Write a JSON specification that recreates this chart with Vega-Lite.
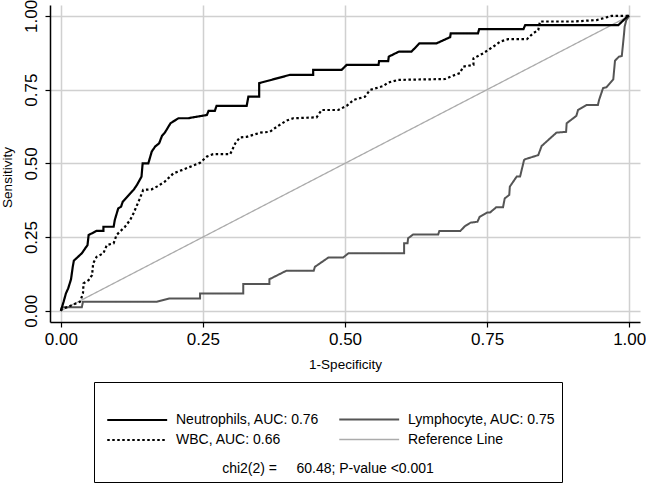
{
  "$schema": "https://vega.github.io/schema/vega-lite/v6.json",
  "autosize": "none",
  "width": 590,
  "height": 317,
  "padding": {"left": 50, "top": 5, "right": 6, "bottom": 162},
  "background": "white",
  "config": {
    "view": {"stroke": null},
    "font": "Liberation Sans",
    "axis": {
      "domainColor": "black",
      "domainWidth": 1.5,
      "tickColor": "black",
      "tickWidth": 1.2,
      "tickSize": 5,
      "gridColor": "#d0d0d0",
      "gridWidth": 1.5,
      "labelFont": "Liberation Sans",
      "labelFontSize": 17,
      "labelColor": "black",
      "titleFont": "Liberation Sans",
      "titleFontSize": 13.5,
      "titleFontWeight": "normal",
      "titleColor": "black"
    },
    "legend": {
      "orient": "none",
      "legendX": 44,
      "legendY": 377,
      "columns": 2,
      "direction": "horizontal",
      "strokeColor": "black",
      "padding": 6,
      "columnPadding": 12,
      "rowPadding": 0,
      "symbolType": "M-0.5,0H4.71",
      "symbolSize": 529,
      "symbolStrokeWidth": 1.5,
      "labelFont": "Liberation Sans",
      "labelFontSize": 14,
      "labelColor": "black",
      "labelOffset": 50,
      "labelLimit": 300,
      "titleOrient": "bottom",
      "titleAnchor": "middle",
      "titleFont": "Liberation Sans",
      "titleFontSize": 14,
      "titleFontWeight": "normal",
      "titleColor": "black",
      "titlePadding": 15,
      "titleLimit": 500
    }
  },
  "data": {
    "values": [
      {"s": "Reference Line", "x": 0, "y": 0},
      {"s": "Reference Line", "x": 1, "y": 1},
      {"s": "Lymphocyte, AUC: 0.75", "x": 0, "y": 0},
      {"s": "Lymphocyte, AUC: 0.75", "x": 0.002, "y": 0.012},
      {"s": "Lymphocyte, AUC: 0.75", "x": 0.037, "y": 0.012},
      {"s": "Lymphocyte, AUC: 0.75", "x": 0.039, "y": 0.031},
      {"s": "Lymphocyte, AUC: 0.75", "x": 0.078, "y": 0.031},
      {"s": "Lymphocyte, AUC: 0.75", "x": 0.169, "y": 0.031},
      {"s": "Lymphocyte, AUC: 0.75", "x": 0.192, "y": 0.042},
      {"s": "Lymphocyte, AUC: 0.75", "x": 0.245, "y": 0.042},
      {"s": "Lymphocyte, AUC: 0.75", "x": 0.245, "y": 0.059},
      {"s": "Lymphocyte, AUC: 0.75", "x": 0.321, "y": 0.059},
      {"s": "Lymphocyte, AUC: 0.75", "x": 0.321, "y": 0.091},
      {"s": "Lymphocyte, AUC: 0.75", "x": 0.367, "y": 0.091},
      {"s": "Lymphocyte, AUC: 0.75", "x": 0.367, "y": 0.107},
      {"s": "Lymphocyte, AUC: 0.75", "x": 0.397, "y": 0.136},
      {"s": "Lymphocyte, AUC: 0.75", "x": 0.445, "y": 0.136},
      {"s": "Lymphocyte, AUC: 0.75", "x": 0.447, "y": 0.149},
      {"s": "Lymphocyte, AUC: 0.75", "x": 0.471, "y": 0.181},
      {"s": "Lymphocyte, AUC: 0.75", "x": 0.497, "y": 0.181},
      {"s": "Lymphocyte, AUC: 0.75", "x": 0.506, "y": 0.195},
      {"s": "Lymphocyte, AUC: 0.75", "x": 0.604, "y": 0.195},
      {"s": "Lymphocyte, AUC: 0.75", "x": 0.604, "y": 0.229},
      {"s": "Lymphocyte, AUC: 0.75", "x": 0.61, "y": 0.229},
      {"s": "Lymphocyte, AUC: 0.75", "x": 0.611, "y": 0.246},
      {"s": "Lymphocyte, AUC: 0.75", "x": 0.62, "y": 0.259},
      {"s": "Lymphocyte, AUC: 0.75", "x": 0.664, "y": 0.259},
      {"s": "Lymphocyte, AUC: 0.75", "x": 0.666, "y": 0.271},
      {"s": "Lymphocyte, AUC: 0.75", "x": 0.703, "y": 0.271},
      {"s": "Lymphocyte, AUC: 0.75", "x": 0.711, "y": 0.287},
      {"s": "Lymphocyte, AUC: 0.75", "x": 0.721, "y": 0.299},
      {"s": "Lymphocyte, AUC: 0.75", "x": 0.733, "y": 0.302},
      {"s": "Lymphocyte, AUC: 0.75", "x": 0.737, "y": 0.319},
      {"s": "Lymphocyte, AUC: 0.75", "x": 0.75, "y": 0.333},
      {"s": "Lymphocyte, AUC: 0.75", "x": 0.755, "y": 0.333},
      {"s": "Lymphocyte, AUC: 0.75", "x": 0.766, "y": 0.351},
      {"s": "Lymphocyte, AUC: 0.75", "x": 0.778, "y": 0.351},
      {"s": "Lymphocyte, AUC: 0.75", "x": 0.781, "y": 0.381},
      {"s": "Lymphocyte, AUC: 0.75", "x": 0.789, "y": 0.393},
      {"s": "Lymphocyte, AUC: 0.75", "x": 0.79, "y": 0.421},
      {"s": "Lymphocyte, AUC: 0.75", "x": 0.802, "y": 0.455},
      {"s": "Lymphocyte, AUC: 0.75", "x": 0.808, "y": 0.455},
      {"s": "Lymphocyte, AUC: 0.75", "x": 0.815, "y": 0.511},
      {"s": "Lymphocyte, AUC: 0.75", "x": 0.817, "y": 0.514},
      {"s": "Lymphocyte, AUC: 0.75", "x": 0.84, "y": 0.528},
      {"s": "Lymphocyte, AUC: 0.75", "x": 0.846, "y": 0.559},
      {"s": "Lymphocyte, AUC: 0.75", "x": 0.872, "y": 0.604},
      {"s": "Lymphocyte, AUC: 0.75", "x": 0.889, "y": 0.607},
      {"s": "Lymphocyte, AUC: 0.75", "x": 0.89, "y": 0.636},
      {"s": "Lymphocyte, AUC: 0.75", "x": 0.907, "y": 0.661},
      {"s": "Lymphocyte, AUC: 0.75", "x": 0.91, "y": 0.681},
      {"s": "Lymphocyte, AUC: 0.75", "x": 0.925, "y": 0.698},
      {"s": "Lymphocyte, AUC: 0.75", "x": 0.945, "y": 0.698},
      {"s": "Lymphocyte, AUC: 0.75", "x": 0.947, "y": 0.715},
      {"s": "Lymphocyte, AUC: 0.75", "x": 0.954, "y": 0.755},
      {"s": "Lymphocyte, AUC: 0.75", "x": 0.96, "y": 0.758},
      {"s": "Lymphocyte, AUC: 0.75", "x": 0.972, "y": 0.785},
      {"s": "Lymphocyte, AUC: 0.75", "x": 0.975, "y": 0.848},
      {"s": "Lymphocyte, AUC: 0.75", "x": 0.982, "y": 0.862},
      {"s": "Lymphocyte, AUC: 0.75", "x": 0.987, "y": 0.864},
      {"s": "Lymphocyte, AUC: 0.75", "x": 0.991, "y": 0.941},
      {"s": "Lymphocyte, AUC: 0.75", "x": 0.992, "y": 0.964},
      {"s": "Lymphocyte, AUC: 0.75", "x": 0.995, "y": 0.986},
      {"s": "Lymphocyte, AUC: 0.75", "x": 1, "y": 1},
      {"s": "WBC, AUC: 0.66", "x": 0, "y": 0},
      {"s": "WBC, AUC: 0.66", "x": 0.002, "y": 0.005},
      {"s": "WBC, AUC: 0.66", "x": 0.034, "y": 0.031},
      {"s": "WBC, AUC: 0.66", "x": 0.039, "y": 0.059},
      {"s": "WBC, AUC: 0.66", "x": 0.04, "y": 0.093},
      {"s": "WBC, AUC: 0.66", "x": 0.049, "y": 0.104},
      {"s": "WBC, AUC: 0.66", "x": 0.055, "y": 0.121},
      {"s": "WBC, AUC: 0.66", "x": 0.057, "y": 0.161},
      {"s": "WBC, AUC: 0.66", "x": 0.063, "y": 0.183},
      {"s": "WBC, AUC: 0.66", "x": 0.075, "y": 0.195},
      {"s": "WBC, AUC: 0.66", "x": 0.081, "y": 0.223},
      {"s": "WBC, AUC: 0.66", "x": 0.093, "y": 0.229},
      {"s": "WBC, AUC: 0.66", "x": 0.098, "y": 0.257},
      {"s": "WBC, AUC: 0.66", "x": 0.107, "y": 0.274},
      {"s": "WBC, AUC: 0.66", "x": 0.113, "y": 0.285},
      {"s": "WBC, AUC: 0.66", "x": 0.122, "y": 0.308},
      {"s": "WBC, AUC: 0.66", "x": 0.128, "y": 0.331},
      {"s": "WBC, AUC: 0.66", "x": 0.138, "y": 0.376},
      {"s": "WBC, AUC: 0.66", "x": 0.145, "y": 0.41},
      {"s": "WBC, AUC: 0.66", "x": 0.16, "y": 0.412},
      {"s": "WBC, AUC: 0.66", "x": 0.169, "y": 0.421},
      {"s": "WBC, AUC: 0.66", "x": 0.183, "y": 0.438},
      {"s": "WBC, AUC: 0.66", "x": 0.198, "y": 0.466},
      {"s": "WBC, AUC: 0.66", "x": 0.213, "y": 0.477},
      {"s": "WBC, AUC: 0.66", "x": 0.245, "y": 0.502},
      {"s": "WBC, AUC: 0.66", "x": 0.257, "y": 0.523},
      {"s": "WBC, AUC: 0.66", "x": 0.268, "y": 0.531},
      {"s": "WBC, AUC: 0.66", "x": 0.298, "y": 0.531},
      {"s": "WBC, AUC: 0.66", "x": 0.307, "y": 0.568},
      {"s": "WBC, AUC: 0.66", "x": 0.315, "y": 0.588},
      {"s": "WBC, AUC: 0.66", "x": 0.327, "y": 0.59},
      {"s": "WBC, AUC: 0.66", "x": 0.351, "y": 0.604},
      {"s": "WBC, AUC: 0.66", "x": 0.368, "y": 0.607},
      {"s": "WBC, AUC: 0.66", "x": 0.38, "y": 0.624},
      {"s": "WBC, AUC: 0.66", "x": 0.397, "y": 0.645},
      {"s": "WBC, AUC: 0.66", "x": 0.409, "y": 0.653},
      {"s": "WBC, AUC: 0.66", "x": 0.45, "y": 0.656},
      {"s": "WBC, AUC: 0.66", "x": 0.459, "y": 0.681},
      {"s": "WBC, AUC: 0.66", "x": 0.488, "y": 0.681},
      {"s": "WBC, AUC: 0.66", "x": 0.503, "y": 0.695},
      {"s": "WBC, AUC: 0.66", "x": 0.515, "y": 0.715},
      {"s": "WBC, AUC: 0.66", "x": 0.535, "y": 0.726},
      {"s": "WBC, AUC: 0.66", "x": 0.544, "y": 0.749},
      {"s": "WBC, AUC: 0.66", "x": 0.567, "y": 0.762},
      {"s": "WBC, AUC: 0.66", "x": 0.576, "y": 0.774},
      {"s": "WBC, AUC: 0.66", "x": 0.594, "y": 0.783},
      {"s": "WBC, AUC: 0.66", "x": 0.676, "y": 0.786},
      {"s": "WBC, AUC: 0.66", "x": 0.688, "y": 0.796},
      {"s": "WBC, AUC: 0.66", "x": 0.702, "y": 0.806},
      {"s": "WBC, AUC: 0.66", "x": 0.708, "y": 0.828},
      {"s": "WBC, AUC: 0.66", "x": 0.726, "y": 0.834},
      {"s": "WBC, AUC: 0.66", "x": 0.726, "y": 0.856},
      {"s": "WBC, AUC: 0.66", "x": 0.743, "y": 0.873},
      {"s": "WBC, AUC: 0.66", "x": 0.761, "y": 0.896},
      {"s": "WBC, AUC: 0.66", "x": 0.773, "y": 0.913},
      {"s": "WBC, AUC: 0.66", "x": 0.787, "y": 0.921},
      {"s": "WBC, AUC: 0.66", "x": 0.82, "y": 0.921},
      {"s": "WBC, AUC: 0.66", "x": 0.831, "y": 0.941},
      {"s": "WBC, AUC: 0.66", "x": 0.84, "y": 0.952},
      {"s": "WBC, AUC: 0.66", "x": 0.843, "y": 0.981},
      {"s": "WBC, AUC: 0.66", "x": 0.902, "y": 0.981},
      {"s": "WBC, AUC: 0.66", "x": 0.943, "y": 0.986},
      {"s": "WBC, AUC: 0.66", "x": 0.969, "y": 1},
      {"s": "WBC, AUC: 0.66", "x": 1, "y": 1},
      {"s": "Neutrophils, AUC: 0.76", "x": 0, "y": 0},
      {"s": "Neutrophils, AUC: 0.76", "x": 0.002, "y": 0.012},
      {"s": "Neutrophils, AUC: 0.76", "x": 0.005, "y": 0.031},
      {"s": "Neutrophils, AUC: 0.76", "x": 0.009, "y": 0.059},
      {"s": "Neutrophils, AUC: 0.76", "x": 0.013, "y": 0.076},
      {"s": "Neutrophils, AUC: 0.76", "x": 0.018, "y": 0.107},
      {"s": "Neutrophils, AUC: 0.76", "x": 0.021, "y": 0.149},
      {"s": "Neutrophils, AUC: 0.76", "x": 0.023, "y": 0.17},
      {"s": "Neutrophils, AUC: 0.76", "x": 0.037, "y": 0.195},
      {"s": "Neutrophils, AUC: 0.76", "x": 0.047, "y": 0.223},
      {"s": "Neutrophils, AUC: 0.76", "x": 0.049, "y": 0.257},
      {"s": "Neutrophils, AUC: 0.76", "x": 0.063, "y": 0.271},
      {"s": "Neutrophils, AUC: 0.76", "x": 0.075, "y": 0.271},
      {"s": "Neutrophils, AUC: 0.76", "x": 0.075, "y": 0.285},
      {"s": "Neutrophils, AUC: 0.76", "x": 0.093, "y": 0.285},
      {"s": "Neutrophils, AUC: 0.76", "x": 0.095, "y": 0.308},
      {"s": "Neutrophils, AUC: 0.76", "x": 0.101, "y": 0.347},
      {"s": "Neutrophils, AUC: 0.76", "x": 0.106, "y": 0.353},
      {"s": "Neutrophils, AUC: 0.76", "x": 0.109, "y": 0.37},
      {"s": "Neutrophils, AUC: 0.76", "x": 0.128, "y": 0.41},
      {"s": "Neutrophils, AUC: 0.76", "x": 0.134, "y": 0.427},
      {"s": "Neutrophils, AUC: 0.76", "x": 0.142, "y": 0.455},
      {"s": "Neutrophils, AUC: 0.76", "x": 0.144, "y": 0.5},
      {"s": "Neutrophils, AUC: 0.76", "x": 0.154, "y": 0.5},
      {"s": "Neutrophils, AUC: 0.76", "x": 0.16, "y": 0.54},
      {"s": "Neutrophils, AUC: 0.76", "x": 0.166, "y": 0.557},
      {"s": "Neutrophils, AUC: 0.76", "x": 0.173, "y": 0.568},
      {"s": "Neutrophils, AUC: 0.76", "x": 0.178, "y": 0.593},
      {"s": "Neutrophils, AUC: 0.76", "x": 0.183, "y": 0.604},
      {"s": "Neutrophils, AUC: 0.76", "x": 0.193, "y": 0.636},
      {"s": "Neutrophils, AUC: 0.76", "x": 0.207, "y": 0.653},
      {"s": "Neutrophils, AUC: 0.76", "x": 0.224, "y": 0.653},
      {"s": "Neutrophils, AUC: 0.76", "x": 0.257, "y": 0.664},
      {"s": "Neutrophils, AUC: 0.76", "x": 0.26, "y": 0.678},
      {"s": "Neutrophils, AUC: 0.76", "x": 0.271, "y": 0.678},
      {"s": "Neutrophils, AUC: 0.76", "x": 0.274, "y": 0.695},
      {"s": "Neutrophils, AUC: 0.76", "x": 0.327, "y": 0.695},
      {"s": "Neutrophils, AUC: 0.76", "x": 0.33, "y": 0.726},
      {"s": "Neutrophils, AUC: 0.76", "x": 0.349, "y": 0.726},
      {"s": "Neutrophils, AUC: 0.76", "x": 0.349, "y": 0.772},
      {"s": "Neutrophils, AUC: 0.76", "x": 0.403, "y": 0.8},
      {"s": "Neutrophils, AUC: 0.76", "x": 0.444, "y": 0.8},
      {"s": "Neutrophils, AUC: 0.76", "x": 0.444, "y": 0.817},
      {"s": "Neutrophils, AUC: 0.76", "x": 0.494, "y": 0.817},
      {"s": "Neutrophils, AUC: 0.76", "x": 0.503, "y": 0.834},
      {"s": "Neutrophils, AUC: 0.76", "x": 0.559, "y": 0.834},
      {"s": "Neutrophils, AUC: 0.76", "x": 0.56, "y": 0.847},
      {"s": "Neutrophils, AUC: 0.76", "x": 0.576, "y": 0.847},
      {"s": "Neutrophils, AUC: 0.76", "x": 0.577, "y": 0.862},
      {"s": "Neutrophils, AUC: 0.76", "x": 0.595, "y": 0.879},
      {"s": "Neutrophils, AUC: 0.76", "x": 0.617, "y": 0.879},
      {"s": "Neutrophils, AUC: 0.76", "x": 0.631, "y": 0.907},
      {"s": "Neutrophils, AUC: 0.76", "x": 0.661, "y": 0.907},
      {"s": "Neutrophils, AUC: 0.76", "x": 0.685, "y": 0.928},
      {"s": "Neutrophils, AUC: 0.76", "x": 0.686, "y": 0.941},
      {"s": "Neutrophils, AUC: 0.76", "x": 0.734, "y": 0.941},
      {"s": "Neutrophils, AUC: 0.76", "x": 0.736, "y": 0.955},
      {"s": "Neutrophils, AUC: 0.76", "x": 0.814, "y": 0.955},
      {"s": "Neutrophils, AUC: 0.76", "x": 0.817, "y": 0.969},
      {"s": "Neutrophils, AUC: 0.76", "x": 0.981, "y": 0.969},
      {"s": "Neutrophils, AUC: 0.76", "x": 0.998, "y": 1},
      {"s": "Neutrophils, AUC: 0.76", "x": 1, "y": 1}
    ]
  },
  "mark": {"type": "line", "clip": false, "strokeJoin": "miter"},
  "encoding": {
    "x": {
      "field": "x",
      "type": "quantitative",
      "scale": {"domain": [-0.019, 1.019], "nice": false, "zero": false},
      "axis": {
        "title": "1-Specificity",
        "values": [0, 0.25, 0.5, 0.75, 1],
        "format": ".2f",
        "labelPadding": 4,
        "titlePadding": 10
      }
    },
    "y": {
      "field": "y",
      "type": "quantitative",
      "scale": {"domain": [-0.038, 1.037], "nice": false, "zero": false},
      "axis": {
        "title": "Sensitivity",
        "values": [0, 0.25, 0.5, 0.75, 1],
        "format": ".2f",
        "labelAngle": -90,
        "labelAlign": "center",
        "labelBaseline": "bottom",
        "labelPadding": 5,
        "titlePadding": 8,
        "titleY": 172
      }
    },
    "order": {"value": null},
    "color": {
      "field": "s",
      "type": "nominal",
      "scale": {
        "domain": [" ", "  ", "Neutrophils, AUC: 0.76", "Lymphocyte, AUC: 0.75", "WBC, AUC: 0.66", "Reference Line"],
        "range": ["rgba(0,0,0,0)", "rgba(0,0,0,0)", "#000000", "#555555", "#000000", "#ababab"]
      },
      "legend": {"title": "chi2(2) =\u00a0\u00a0\u00a0\u00a0 60.48; P-value <0.001"}
    },
    "strokeDash": {
      "field": "s",
      "type": "nominal",
      "scale": {
        "domain": [" ", "  ", "Neutrophils, AUC: 0.76", "Lymphocyte, AUC: 0.75", "WBC, AUC: 0.66", "Reference Line"],
        "range": [[1, 0], [1, 0], [1, 0], [1, 0], [2.5, 2.5], [1, 0]]
      },
      "legend": {"title": "chi2(2) =\u00a0\u00a0\u00a0\u00a0 60.48; P-value <0.001"}
    },
    "strokeWidth": {
      "field": "s",
      "type": "nominal",
      "scale": {
        "type": "ordinal",
        "domain": [" ", "  ", "Neutrophils, AUC: 0.76", "Lymphocyte, AUC: 0.75", "WBC, AUC: 0.66", "Reference Line"],
        "range": [0, 0, 2.2, 2, 2.2, 1.3]
      },
      "legend": {"title": "chi2(2) =\u00a0\u00a0\u00a0\u00a0 60.48; P-value <0.001"}
    }
  }
}
